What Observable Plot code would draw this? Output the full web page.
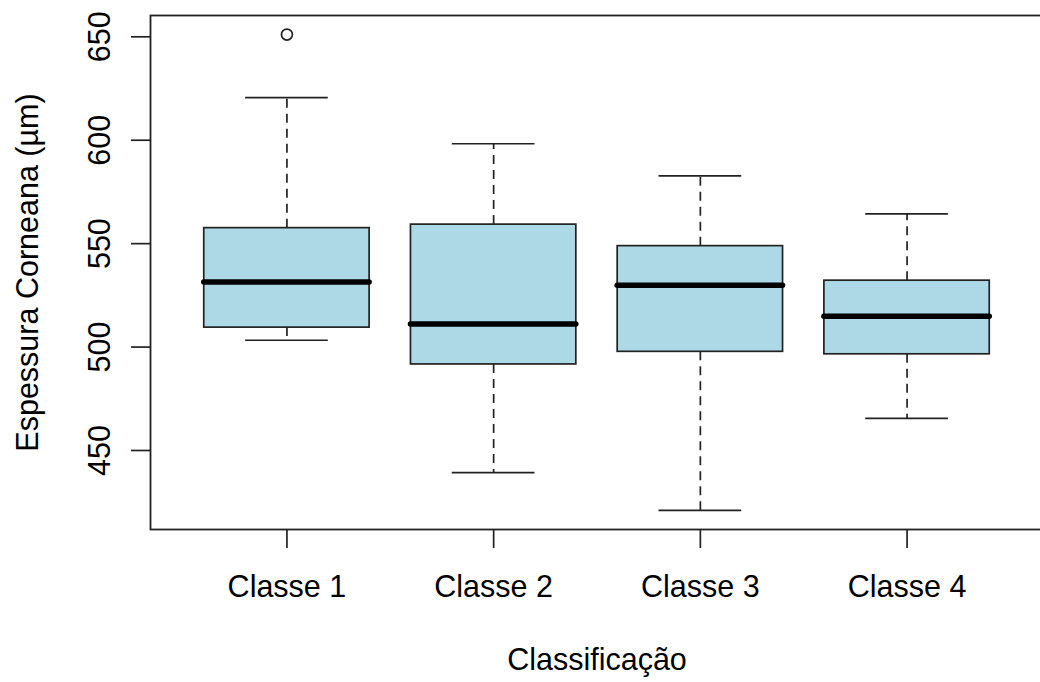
<!DOCTYPE html>
<html><head><meta charset="utf-8">
<script src="https://cdn.jsdelivr.net/npm/d3@7"></script>
<script src="https://cdn.jsdelivr.net/npm/@observablehq/plot@0.6"></script>
<style>html,body{margin:0;padding:0;background:#fff;overflow:hidden}</style>
</head><body><div id="chart"></div>
<script>
const categories = ["Classe 1", "Classe 2", "Classe 3", "Classe 4"];
const lowerWhisker = [503.3, 439.3, 421.0, 465.5];
const q1 = [509.4, 491.6, 497.7, 496.5];
const median = [531.5, 511.2, 529.9, 514.9];
const q3 = [557.5, 559.2, 548.8, 532.1];
const upperWhisker = [620.6, 598.3, 582.8, 564.4];
const outlierCategory = ["Classe 1"];
const outlierValue = [651.1];
const yTicks = [450, 500, 550, 600, 650];
const xLabel = "Classificação";
const yLabel = "Espessura Corneana (µm)";

const FONT = "'Liberation Sans', Arial, Helvetica, sans-serif";
const FS = 30.5;
const half = 0.4, capHalf = 0.2;
const positions = categories.map((c, i) => i + 1);
const boxes = categories.map((name, i) => ({
  name, pos: i + 1, lo: lowerWhisker[i], q1: q1[i], med: median[i], q3: q3[i], hi: upperWhisker[i]
}));
const outs = outlierCategory.map((c, i) => ({pos: categories.indexOf(c) + 1, value: outlierValue[i]}));

const chart = Plot.plot({
  width: 1040, height: 682,
  marginLeft: 150, marginRight: -3, marginTop: 15, marginBottom: 153,
  style: {fontFamily: FONT, fontSize: FS + "px", color: "black", background: "white"},
  x: {type: "linear", domain: [0.34, 4.66]},
  y: {domain: [411.8, 660.3]},
  marks: [
    Plot.ruleX(boxes, {x: "pos", y1: "q3", y2: "hi", stroke: "#222", strokeWidth: 1.7, strokeDasharray: "9,6"}),
    Plot.ruleX(boxes, {x: "pos", y1: "q1", y2: "lo", stroke: "#222", strokeWidth: 1.7, strokeDasharray: "9,6"}),
    Plot.ruleY(boxes, {y: "hi", x1: d => d.pos - capHalf, x2: d => d.pos + capHalf, stroke: "#222", strokeWidth: 1.7}),
    Plot.ruleY(boxes, {y: "lo", x1: d => d.pos - capHalf, x2: d => d.pos + capHalf, stroke: "#222", strokeWidth: 1.7}),
    Plot.rect(boxes, {x1: d => d.pos - half, x2: d => d.pos + half, y1: "q1", y2: "q3", fill: "#ADD8E6", stroke: "#222", strokeWidth: 1.7}),
    Plot.ruleY(boxes, {y: "med", x1: d => d.pos - half, x2: d => d.pos + half, stroke: "black", strokeWidth: 5.5, strokeLinecap: "round"}),
    Plot.dot(outs, {x: "pos", y: "value", r: 5.5, stroke: "#222", strokeWidth: 1.7, fill: "none"}),
    Plot.frame({stroke: "#222", strokeWidth: 1.8}),
    Plot.axisY({ticks: yTicks, tickSize: 19, tickFormat: () => "", label: null, stroke: "#222", strokeWidth: 1.7}),
    Plot.text(yTicks, {y: d => d, frameAnchor: "left", dx: -50, rotate: -90, text: d => String(d), textAnchor: "middle", lineAnchor: "middle", fontSize: FS, fill: "black"}),
    Plot.axisX({ticks: positions, tickSize: 19, tickPadding: 27, tickFormat: d => categories[d - 1], label: null, fontSize: FS, stroke: "#222", strokeWidth: 1.7}),
    Plot.text([xLabel], {frameAnchor: "bottom", dy: 119, lineAnchor: "top", text: d => d, fontSize: FS, fill: "black"}),
    Plot.text([yLabel], {frameAnchor: "left", dx: -122.5, rotate: -90, textAnchor: "middle", lineAnchor: "middle", text: d => d, fontSize: FS, fill: "black"})
  ]
});
document.getElementById("chart").appendChild(chart);
</script>
</body></html>
